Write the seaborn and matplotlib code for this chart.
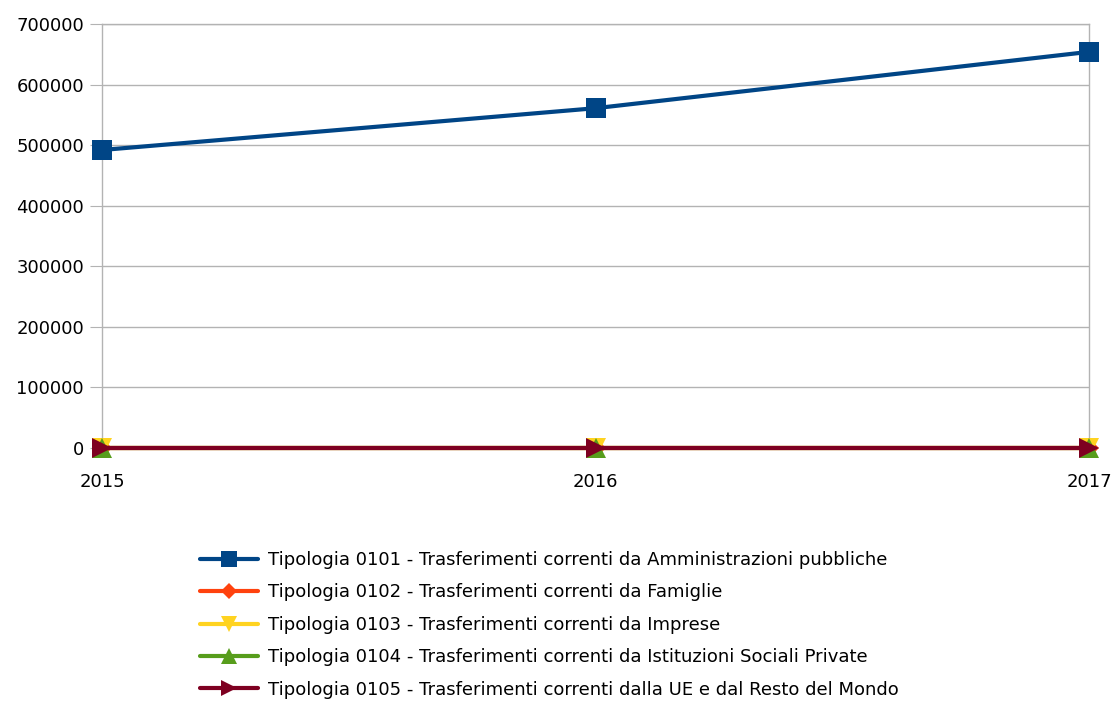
import pandas as pd
import matplotlib.pyplot as plt
import seaborn as sns

# Values
anni = [2015, 2016, 2017]
tipologie = [
    "Tipologia 0101 - Trasferimenti correnti da Amministrazioni pubbliche",
    "Tipologia 0102 - Trasferimenti correnti da Famiglie",
    "Tipologia 0103 - Trasferimenti correnti da Imprese",
    "Tipologia 0104 - Trasferimenti correnti da Istituzioni Sociali Private",
    "Tipologia 0105 - Trasferimenti correnti dalla UE e dal Resto del Mondo",
]
t0101 = [492000, 561000, 654000]
t0102 = [0, 0, 0]
t0103 = [0, 0, 0]
t0104 = [0, 0, 0]
t0105 = [0, 0, 0]

colori = ["#004586", "#ff420e", "#ffd320", "#579d1c", "#7e0021"]
marcatori = ["s", "D", "v", "^", ">"]

df = pd.DataFrame({
    "Anno": anni * 5,
    "Valore": t0101 + t0102 + t0103 + t0104 + t0105,
    "Tipologia": [t for t in tipologie for _ in anni],
})

sns.set_style("white")
plt.rcParams["font.family"] = ["DejaVu Sans"]
plt.rcParams["text.color"] = "black"
plt.rcParams["xtick.color"] = "black"
plt.rcParams["ytick.color"] = "black"

fig = plt.figure(figsize=(11.12, 7.06), dpi=100)
ax = fig.add_axes([102 / 1112, 1 - 448 / 706, (1089 - 102) / 1112, (448 - 24) / 706])

sns.lineplot(
    data=df, x="Anno", y="Valore", hue="Tipologia", style="Tipologia",
    hue_order=tipologie, style_order=tipologie,
    palette=colori, markers=marcatori, dashes=False,
    linewidth=3, markersize=14, markeredgewidth=0,
    legend=False, ax=ax, clip_on=False, zorder=5,
)
# smaller marker for the diamond
for line, m in zip(ax.get_lines(), marcatori):
    if m == "D":
        line.set_markersize(10)

ax.set_xlim(2015, 2017)
ax.set_ylim(0, 700000)
ax.set_xticks(anni)
ax.set_xticklabels([str(a) for a in anni])
ax.set_yticks(range(0, 700001, 100000))
ax.set_yticklabels([str(v) for v in range(0, 700001, 100000)])
ax.set_xlabel("")
ax.set_ylabel("")
ax.set_axisbelow(True)
ax.yaxis.grid(True, color="#b3b3b3", linewidth=1)
ax.xaxis.grid(False)
for s in ax.spines.values():
    s.set_color("#b3b3b3")
    s.set_linewidth(1)
    s.set_zorder(0)
ax.tick_params(axis="y", length=9, color="#b3b3b3", labelcolor="black", labelsize=13, pad=4, left=True)
ax.tick_params(axis="x", length=0, labelcolor="black", labelsize=13, pad=18)

# legend below the plot
handles = [
    plt.Line2D([], [], color=c, marker=m, linewidth=3, markersize=11 if m != "D" else 8,
               markeredgewidth=0)
    for c, m in zip(colori, marcatori)
]
leg = fig.legend(handles, tipologie, loc="upper left", bbox_to_anchor=(200 / 1112, 1 - 551 / 706),
                 frameon=False, fontsize=13, handlelength=3.2, handletextpad=0.55,
                 labelspacing=0.8, borderaxespad=0, borderpad=0)
for t in leg.get_texts():
    t.set_color("black")

fig.savefig("out.png", dpi=100)
